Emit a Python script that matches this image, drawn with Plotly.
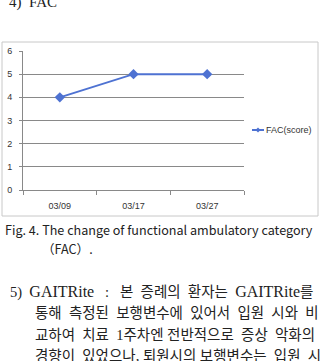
import plotly.graph_objects as go

# ---- data ----
dates = ["03/09", "03/17", "03/27"]
fac_score = [4, 5, 5]
y_ticks = [0, 1, 2, 3, 4, 5, 6]
series_name = "FAC(score)"

header_text = "4)  FAC"
caption_lines = ["Fig. 4. The change of functional ambulatory category", "（FAC）."]
para_words = [
    ["5)", "GAITRite", ":", "본", "증례의", "환자는", "GAITRite를"],
    ["통해", "측정된", "보행변수에", "있어서", "입원", "시와", "비"],
    ["교하여", "치료", "1주차엔", "전반적으로", "증상", "악화의"],
    ["경향이", "있었으나,", "퇴원시의", "보행변수는", "입원", "시"],
]

W, H = 322, 361
L, R, T, B = 23, 244, 51, 190  # plot area in pixels


def px(x):
    return (x - L) / (R - L)


def py(y):
    return (B - y) / (B - T)


BLUE = "#4e72d2"
GRID = "#898989"
EN = "\u2002"

fig = go.Figure()
fig.add_trace(go.Scatter(
    x=dates, y=fac_score, mode="lines+markers", name=series_name,
    line=dict(color=BLUE, width=2),
    marker=dict(symbol="diamond", size=8, color=BLUE),
    showlegend=False, cliponaxis=False,
))

tick_font = dict(family="Liberation Sans", size=9, color="#333")
fig.update_xaxes(
    type="category", range=[-0.5, 2.5], tickson="boundaries",
    ticks="outside", ticklen=4, tickcolor=GRID, showline=True, linecolor=GRID,
    linewidth=1, showgrid=False, ticklabelstandoff=7, tickfont=tick_font,
)
fig.update_yaxes(
    range=[0, 6], tickvals=y_ticks, ticks="outside", ticklen=3, tickcolor=GRID,
    showline=True, linecolor=GRID, linewidth=1, showgrid=True, gridcolor=GRID,
    gridwidth=1, zeroline=False, ticklabelstandoff=5, tickfont=tick_font,
)

shapes = [
    # chart frame
    dict(type="rect", xref="paper", yref="paper", x0=px(2), x1=px(318), y0=py(216), y1=py(42),
         line=dict(color="#c8c8c8", width=1), layer="below"),
    # legend glyph
    dict(type="line", xref="paper", yref="paper", x0=px(252), x1=px(264), y0=py(130), y1=py(130),
         line=dict(color=BLUE, width=2)),
    dict(type="path", xref="paper", yref="paper",
         path=f"M {px(258)},{py(127.5)} L {px(260.5)},{py(130)} L {px(258)},{py(132.5)} L {px(255.5)},{py(130)} Z",
         fillcolor=BLUE, line=dict(color=BLUE, width=0)),
]

ann = []
ann.append(dict(x=px(264), y=py(130), xref="paper", yref="paper", text=series_name, showarrow=False,
                xanchor="left", yanchor="middle",
                font=dict(family="Liberation Sans", size=9, color="#333")))
ann.append(dict(x=px(7), y=py(3), xref="paper", yref="paper", text=header_text, showarrow=False,
                xanchor="left", yanchor="middle",
                font=dict(family="Liberation Serif", size=15, color="#222")))
cap_font = dict(family="Noto Sans CJK KR", size=12.6, color="#222")
ann.append(dict(x=px(3), y=py(229), xref="paper", yref="paper", text=caption_lines[0], showarrow=False,
                xanchor="left", yanchor="middle", font=cap_font))
ann.append(dict(x=px(40), y=py(248), xref="paper", yref="paper", text=caption_lines[1], showarrow=False,
                xanchor="left", yanchor="middle", font=cap_font))

para_font = dict(family="Liberation Serif, Noto Sans CJK KR", size=14.5, color="#222")
para_y = [291.5, 313, 334.5, 356]
gap_sets = [
    [EN, EN + " ", EN + " ", EN, EN, EN],
    [EN] * 6,
    [EN, EN, " ", EN, EN],
    [EN, " ", " ", EN, EN],
]
for i, (words, yy) in enumerate(zip(para_words, para_y)):
    t = words[0]
    for g, w in zip(gap_sets[i], words[1:]):
        t += g + w
    if i == 0:
        t = t.replace("GAITRite", '<span style="font-size:16px">GAITRite</span>')
    ann.append(dict(x=px(8 if i == 0 else 33), y=py(yy), xref="paper", yref="paper", text=t,
                    showarrow=False, xanchor="left", yanchor="middle", font=para_font))

fig.update_layout(
    width=W, height=H, autosize=False,
    margin=dict(l=L, r=W - R, t=T, b=H - B, pad=0, autoexpand=False),
    paper_bgcolor="white", plot_bgcolor="white",
    shapes=shapes, annotations=ann, showlegend=False,
)

fig.write_html("out.html")
